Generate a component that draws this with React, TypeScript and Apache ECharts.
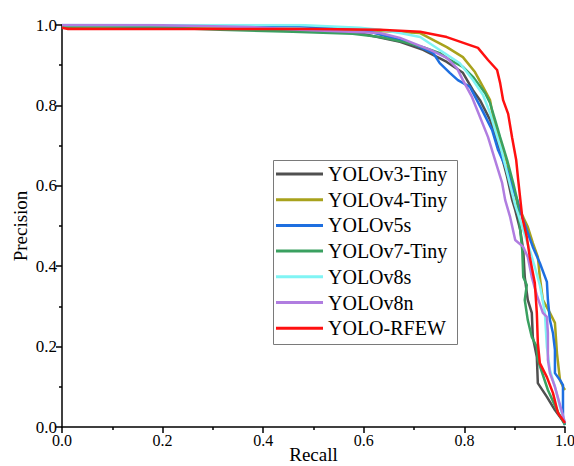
import React, { useEffect, useRef } from "react";
import * as echarts from "echarts";

const seriesNames = ["YOLOv3-Tiny", "YOLOv4-Tiny", "YOLOv5s", "YOLOv7-Tiny", "YOLOv8s", "YOLOv8n", "YOLO-RFEW"];
const seriesColors = ["#505050", "#a8a21c", "#1e6fe0", "#3aa060", "#80f4f4", "#b07de0", "#ff1010"];

const axisTicks = [0, 0.2, 0.4, 0.6, 0.8, 1.0];

const v3Recall = [0, 0.2, 0.473, 0.59, 0.672, 0.718, 0.765, 0.797, 0.817, 0.831, 0.851, 0.871, 0.885, 0.895, 0.901, 0.911, 0.917, 0.92, 0.926, 0.934, 0.936, 0.944, 0.946, 0.964, 0.98, 1.0];
const v3Prec = [0.995, 0.995, 0.988, 0.98, 0.958, 0.938, 0.908, 0.881, 0.838, 0.813, 0.764, 0.689, 0.622, 0.565, 0.54, 0.49, 0.44, 0.373, 0.316, 0.284, 0.224, 0.174, 0.109, 0.075, 0.042, 0.008];

const v4Recall = [0, 0.473, 0.632, 0.712, 0.765, 0.797, 0.821, 0.837, 0.851, 0.857, 0.871, 0.885, 0.897, 0.907, 0.917, 0.926, 0.936, 0.946, 0.95, 0.956, 0.97, 0.98, 0.984, 0.99, 0.996, 1.0];
const v4Prec = [0.997, 0.99, 0.985, 0.98, 0.945, 0.92, 0.883, 0.846, 0.813, 0.771, 0.714, 0.657, 0.597, 0.547, 0.522, 0.498, 0.458, 0.423, 0.373, 0.316, 0.284, 0.259, 0.184, 0.117, 0.1, 0.092];

const v5Recall = [0, 0.3, 0.473, 0.592, 0.686, 0.712, 0.738, 0.751, 0.771, 0.787, 0.811, 0.835, 0.855, 0.867, 0.885, 0.895, 0.905, 0.915, 0.924, 0.936, 0.95, 0.964, 0.966, 0.97, 0.976, 0.98, 0.98, 0.99, 0.996, 0.996, 1.0];
const v5Prec = [1.0, 0.999, 0.997, 0.99, 0.958, 0.945, 0.93, 0.905, 0.881, 0.863, 0.846, 0.789, 0.739, 0.689, 0.639, 0.597, 0.565, 0.522, 0.49, 0.448, 0.408, 0.361, 0.316, 0.266, 0.234, 0.192, 0.134, 0.117, 0.104, 0.017, 0.005];

const v7Recall = [0, 0.175, 0.314, 0.459, 0.578, 0.632, 0.678, 0.718, 0.751, 0.771, 0.797, 0.817, 0.841, 0.851, 0.861, 0.871, 0.885, 0.897, 0.905, 0.911, 0.915, 0.917, 0.924, 0.92, 0.926, 0.934, 0.944, 0.946, 0.966, 0.986, 1.0];
const v7Prec = [0.998, 0.995, 0.988, 0.983, 0.978, 0.97, 0.958, 0.945, 0.93, 0.913, 0.896, 0.871, 0.831, 0.806, 0.764, 0.721, 0.664, 0.607, 0.565, 0.49, 0.44, 0.373, 0.353, 0.316, 0.266, 0.224, 0.199, 0.167, 0.092, 0.037, 0.005];

const v8sRecall = [0, 0.473, 0.592, 0.632, 0.672, 0.712, 0.751, 0.791, 0.817, 0.837, 0.851, 0.861, 0.875, 0.887, 0.901, 0.917, 0.93, 0.94, 0.95, 0.96, 0.964, 0.97, 0.98, 0.99, 1.0];
const v8sPrec = [1.0, 1.0, 0.993, 0.988, 0.98, 0.97, 0.938, 0.905, 0.863, 0.826, 0.781, 0.739, 0.682, 0.622, 0.552, 0.49, 0.44, 0.398, 0.353, 0.284, 0.199, 0.142, 0.1, 0.05, 0.01];

const v8nRecall = [0, 0.175, 0.374, 0.473, 0.632, 0.672, 0.698, 0.732, 0.765, 0.785, 0.797, 0.815, 0.831, 0.847, 0.861, 0.875, 0.881, 0.891, 0.901, 0.917, 0.926, 0.934, 0.944, 0.956, 0.964, 0.966, 0.966, 0.97, 0.98, 0.99, 1.0];
const v8nPrec = [1.0, 1.0, 0.995, 0.988, 0.98, 0.968, 0.955, 0.938, 0.918, 0.893, 0.863, 0.821, 0.771, 0.721, 0.664, 0.607, 0.565, 0.522, 0.465, 0.448, 0.423, 0.373, 0.328, 0.284, 0.274, 0.234, 0.167, 0.134, 0.1, 0.055, 0.01];

const rfewRecall = [0, 0.012, 0.3, 0.5, 0.632, 0.712, 0.765, 0.811, 0.827, 0.847, 0.865, 0.871, 0.877, 0.887, 0.895, 0.903, 0.907, 0.915, 0.924, 0.93, 0.94, 0.944, 0.946, 0.95, 0.964, 0.976, 0.986, 1.0];
const rfewPrec = [0.993, 0.99, 0.99, 0.99, 0.988, 0.983, 0.97, 0.95, 0.943, 0.913, 0.888, 0.856, 0.813, 0.779, 0.719, 0.664, 0.614, 0.522, 0.473, 0.423, 0.358, 0.284, 0.209, 0.159, 0.124, 0.085, 0.035, 0.01];

const recallSets = [v3Recall, v4Recall, v5Recall, v7Recall, v8sRecall, v8nRecall, rfewRecall];
const precSets = [v3Prec, v4Prec, v5Prec, v7Prec, v8sPrec, v8nPrec, rfewPrec];

const FONT = "'Times New Roman', 'Liberation Serif', serif";

export default function App() {
  const ref = useRef<HTMLDivElement>(null);
  useEffect(() => {
    if (!ref.current) return;
    const chart = echarts.init(ref.current, null, { renderer: "svg" });
    const axisCommon = {
      type: "value",
      min: 0,
      max: 1,
      interval: 0.2,
      axisLine: { show: true, lineStyle: { color: "#000", width: 1.5 } },
      axisTick: { show: true, inside: false, length: 6, lineStyle: { color: "#000", width: 1.5 } },
      minorTick: { show: true, splitNumber: 2, length: 3, lineStyle: { color: "#000", width: 1.5 } },
      splitLine: { show: false },
      axisLabel: {
        color: "#000",
        fontFamily: FONT,
        fontSize: 17,
        formatter: (v: number) => (axisTicks.includes(Math.round(v * 10) / 10) ? v.toFixed(1) : ""),
      },
      nameLocation: "middle",
      nameMoveOverlap: false,
      nameTextStyle: { color: "#000", fontFamily: FONT, fontSize: 19 },
    };
    chart.setOption({
      animation: false,
      backgroundColor: "#fff",
      grid: { left: 62, right: 9, top: 25, bottom: 39, containLabel: false, outerBoundsMode: "none" },
      xAxis: {
        ...axisCommon,
        name: "Recall",
        nameGap: 18,
        axisLabel: { ...axisCommon.axisLabel, fontSize: 16, margin: 5 },
      },
      yAxis: { ...axisCommon, name: "Precision", nameGap: 32, axisLabel: { ...axisCommon.axisLabel, margin: 5 } },
      legend: {
        orient: "vertical",
        left: 276,
        top: 164,
        padding: 0,
        icon: "rect",
        itemWidth: 47,
        itemHeight: 3,
        itemGap: 5.7,
        textStyle: { color: "#000", fontFamily: FONT, fontSize: 20, lineHeight: 20 },
        data: seriesNames,
      },
      graphic: [
        {
          type: "rect",
          shape: { x: 273.5, y: 160.5, width: 184, height: 184 },
          style: { fill: "none", stroke: "#7a7a7a", lineWidth: 1 },
          z: 10,
        },
      ],
      series: seriesNames.map((name, i) => ({
        name,
        type: "line",
        showSymbol: false,
        symbol: "none",
        color: seriesColors[i],
        lineStyle: { color: seriesColors[i], width: 2.5 },
        data: recallSets[i].map((r, j) => [r, precSets[i][j]]),
        z: 2 + i,
      })),
    });
    return () => chart.dispose();
  }, []);
  return <div ref={ref} style={{ width: 574, height: 466, position: "absolute", left: 0, top: 0 }} />;
}
